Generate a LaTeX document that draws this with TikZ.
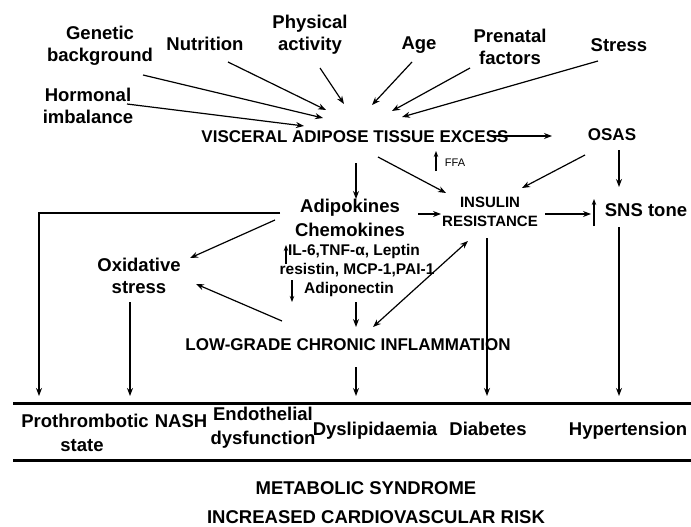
\documentclass[tikz,border=0pt]{standalone}
\usepackage{fontspec}
\setmainfont{Liberation Sans}
\usetikzlibrary{arrows.meta}
\tikzset{
  lbl/.style={font=\fontsize{18.5}{22}\selectfont\bfseries, align=center, inner sep=0pt},
  captxt/.style={font=\fontsize{17}{20}\selectfont\bfseries, inner sep=0pt},
  ir/.style={font=\fontsize{15}{19}\selectfont\bfseries, align=center, inner sep=0pt},
  cyt/.style={font=\fontsize{15.5}{18}\selectfont\bfseries, inner sep=0pt, anchor=base},
  tinytxt/.style={font=\fontsize{11}{13}\selectfont, inner sep=0pt},
  bot/.style={font=\fontsize{18.5}{24.5}\selectfont\bfseries, inner sep=0pt, anchor=base},
  arr/.style={-{Stealth[length=8pt,width=6pt]}, line width=1.2pt},
  darr/.style={{Stealth[length=8pt,width=6pt]}-{Stealth[length=8pt,width=6pt]}, line width=1.2pt},
  sarr/.style={-{Stealth[length=6pt,width=4.5pt]}, line width=1.2pt},
  drop/.style={-{Stealth[length=8pt,width=6pt]}, line width=2.2pt},
  bar/.style={line width=3pt},
}
\begin{document}
\begin{tikzpicture}[x=1pt,y=-1pt]
\useasboundingbox[fill=white] (0,0) rectangle (691,527);

% top factors
\node[lbl] (gen) at (100,46) {Genetic\\background};
\node[lbl] (nut) at (205,44) {Nutrition};
\node[lbl] (phy) at (310,35) {Physical\\activity};
\node[lbl] (age) at (419,45) {Age};
\node[lbl] (pre) at (510,47) {Prenatal\\factors};
\node[lbl] (str) at (619,45) {Stress};
\node[lbl] (hor) at (88,106) {Hormonal\\imbalance};

\node[captxt] (vat) at (355,137) {VISCERAL ADIPOSE TISSUE EXCESS};
\node[captxt] (osas) at (612,135) {OSAS};
\node[tinytxt] (ffa) at (455,163) {FFA};

\node[lbl] (adi) at (350,208) {Adipokines};
\node[lbl] (che) at (350,230) {Chemokines};
\node[cyt] (il) at (354,255) {IL-6,TNF-α, Leptin};
\node[cyt] (res) at (357,274) {resistin, MCP-1,PAI-1};
\node[cyt] (apn) at (349,293) {Adiponectin};

\node[ir] (ins) at (490,212) {INSULIN\\RESISTANCE};
\node[lbl] (sns) at (646,210) {SNS tone};
\node[lbl] (oxi) at (139,276) {Oxidative\\stress};
\node[captxt] (lgci) at (348,345) {LOW-GRADE CHRONIC INFLAMMATION};

% coordinates for arrow ends
\coordinate (gen1) at (143,75);   \coordinate (gen2) at (323,118);
\coordinate (nut1) at (228,62);   \coordinate (nut2) at (326,110);
\coordinate (phy1) at (320,68);   \coordinate (phy2) at (344,104);
\coordinate (hor1) at (127,104);  \coordinate (hor2) at (304,126);
\coordinate (age1) at (412,62);   \coordinate (age2) at (372,105);
\coordinate (pre1) at (470,68);   \coordinate (pre2) at (392,111);
\coordinate (str1) at (598,61);   \coordinate (str2) at (402,117);

\draw[arr] (gen1) -- (gen2);
\draw[arr] (nut1) -- (nut2);
\draw[arr] (phy1) -- (phy2);
\draw[arr] (hor1) -- (hor2);
\draw[arr] (age1) -- (age2);
\draw[arr] (pre1) -- (pre2);
\draw[arr] (str1) -- (str2);

\coordinate (vo1) at (492,136); \coordinate (vo2) at (552,136);
\draw[arr] (vo1) -- (vo2);
\coordinate (ffa1) at (436,171); \coordinate (ffa2) at (436,151);
\draw[sarr] (ffa1) -- (ffa2);

\coordinate (va1) at (356,163); \coordinate (va2) at (356,199);
\draw[arr] (va1) -- (va2);
\coordinate (vi1) at (378,157); \coordinate (vi2) at (446,193);
\draw[arr] (vi1) -- (vi2);
\coordinate (oi1) at (585,155); \coordinate (oi2) at (522,188);
\draw[arr] (oi1) -- (oi2);
\coordinate (os1) at (619,150); \coordinate (os2) at (619,187);
\draw[arr] (os1) -- (os2);

\coordinate (ai1) at (418,214); \coordinate (ai2) at (441,214);
\draw[arr] (ai1) -- (ai2);
\coordinate (is1) at (545,214); \coordinate (is2) at (591,214);
\draw[arr] (is1) -- (is2);
\coordinate (up1) at (594,226); \coordinate (up2) at (594,199);
\draw[sarr] (up1) -- (up2);

\coordinate (ilu1) at (286,264); \coordinate (ilu2) at (286,245);
\draw[sarr] (ilu1) -- (ilu2);
\coordinate (apd1) at (292,280); \coordinate (apd2) at (292,302);
\draw[sarr] (apd1) -- (apd2);

\coordinate (ao1) at (275,220); \coordinate (ao2) at (190,258);
\draw[arr] (ao1) -- (ao2);
\coordinate (lo1) at (282,321); \coordinate (lo2) at (196,284);
\draw[arr] (lo1) -- (lo2);
\coordinate (al1) at (356,302); \coordinate (al2) at (356,327);
\draw[arr] (al1) -- (al2);
\coordinate (il1) at (468,241); \coordinate (il2) at (373,327);
\draw[darr] (il1) -- (il2);

% bottom bars
\coordinate (b1l) at (13,403); \coordinate (b1r) at (691,403);
\coordinate (b2l) at (13,460); \coordinate (b2r) at (691,460);
\draw[bar] (b1l) -- (b1r);
\draw[bar] (b2l) -- (b2r);

% drops
\coordinate (lt1) at (280,213); \coordinate (lt2) at (39,213); \coordinate (lt3) at (39,396);
\draw[drop] (lt1) -- (lt2) -- (lt3);
\coordinate (ox1) at (130,302); \coordinate (ox2) at (130,396);
\draw[drop] (ox1) -- (ox2);
\coordinate (lg1) at (356,367); \coordinate (lg2) at (356,396);
\draw[drop] (lg1) -- (lg2);
\coordinate (ir1) at (487,238); \coordinate (ir2) at (487,396);
\draw[drop] (ir1) -- (ir2);
\coordinate (sn1) at (619,227); \coordinate (sn2) at (619,396);
\draw[drop] (sn1) -- (sn2);

% bottom labels
\node[bot] (pro) at (85,427) {Prothrombotic};
\node[bot] (sta) at (82,451) {state};
\node[bot] (nash) at (181,427) {NASH};
\node[bot] (end) at (263,420) {Endothelial};
\node[bot] (dysf) at (263,444) {dysfunction};
\node[bot] (dys) at (375,435) {Dyslipidaemia};
\node[bot] (dia) at (488,435) {Diabetes};
\node[bot] (hyp) at (628,435) {Hypertension};

\node[bot] (ms) at (366,494) {METABOLIC SYNDROME};
\node[bot] (cvr) at (376,523) {INCREASED CARDIOVASCULAR RISK};
\end{tikzpicture}
\end{document}
